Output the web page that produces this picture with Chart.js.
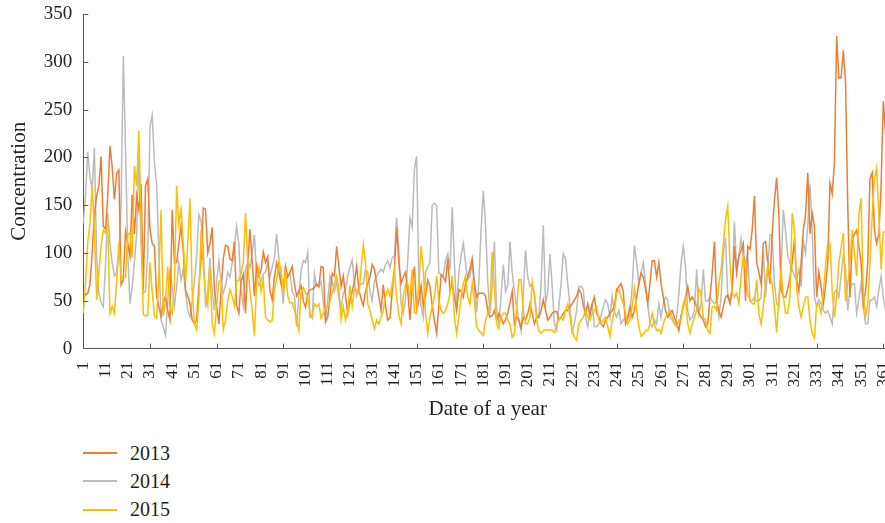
<!DOCTYPE html>
<html>
<head>
<meta charset="utf-8">
<title>Concentration by date of year</title>
<script src="https://cdn.jsdelivr.net/npm/chart.js@4.4.1/dist/chart.umd.min.js"></script>
<style>
  html, body { margin: 0; padding: 0; background: #fff; }
  #wrap { position: relative; width: 885px; height: 523px; overflow: hidden; }
  #chart { position: absolute; left: 0; top: 0; }
  #legend {
    position: absolute; left: 83px; top: 439px;
    font-family: "Liberation Serif", "Times New Roman", serif;
    font-size: 20px; color: #231f20;
  }
  #legend .item { display: flex; align-items: center; height: 28.3px; }
  #legend .swatch { display: block; width: 34px; height: 2px; margin-right: 13px; }
</style>
</head>
<body>
<div id="wrap">
  <canvas id="chart" width="893" height="422"></canvas>
  <div id="legend"></div>
</div>
<script>
// Day of year categories and y ticks
const days = Array.from({ length: 365 }, (_, i) => i + 1);
const yTicks = [0, 50, 100, 150, 200, 250, 300, 350];
const seriesNames = ['2013', '2014', '2015'];
const seriesColors = ['#EE7D31', '#BBBBBB', '#FFBE00'];
const drawOrder = [2, 3, 1]; // gray at the back, gold on top

// Values, 10 days per row
const values2013 = [
  60, 56, 58, 67, 100, 140, 160, 170, 201, 128,
  125, 160, 212, 190, 156, 183, 187, 67, 72, 123,
  110, 97, 161, 120, 160, 145, 172, 62, 170, 178,
  125, 110, 107, 55, 44, 34, 48, 55, 40, 30,
  145, 90, 90, 110, 129, 100, 61, 55, 47, 30,
  26, 30, 65, 94, 147, 146, 100, 110, 127, 60,
  45, 26, 60, 94, 108, 107, 94, 92, 112, 45,
  37, 70, 78, 37, 90, 125, 90, 55, 87, 76,
  82, 101, 90, 96, 61, 51, 75, 90, 80, 68,
  62, 86, 75, 80, 86, 68, 55, 60, 66, 50,
  43, 58, 62, 62, 64, 68, 65, 86, 85, 28,
  33, 55, 79, 76, 107, 86, 65, 76, 55, 37,
  50, 60, 70, 86, 62, 52, 45, 60, 68, 75,
  88, 83, 68, 55, 40, 67, 45, 30, 32, 60,
  83, 127, 90, 68, 75, 80, 60, 30, 65, 86,
  40, 50, 66, 45, 55, 72, 65, 45, 30, 16,
  45, 77, 75, 70, 94, 60, 68, 55, 40, 62,
  60, 54, 68, 75, 83, 94, 68, 54, 58, 58,
  58, 55, 40, 33, 35, 40, 30, 37, 33, 26,
  30, 37, 48, 60, 26, 33, 30, 22, 33, 30,
  37, 47, 37, 26, 33, 33, 40, 51, 40, 30,
  33, 37, 39, 39, 30, 33, 37, 40, 40, 44,
  47, 51, 55, 62, 58, 45, 37, 47, 35, 47,
  54, 37, 33, 26, 23, 30, 33, 37, 40, 44,
  62, 65, 68, 60, 26, 33, 44, 33, 40, 54,
  68, 79, 75, 62, 47, 68, 92, 92, 75, 90,
  68, 54, 40, 33, 37, 40, 33, 26, 19, 35,
  44, 54, 65, 50, 54, 50, 44, 37, 33, 30,
  23, 26, 54, 79, 112, 50, 40, 33, 44, 54,
  56, 48, 62, 107, 79, 97, 103, 110, 50, 107,
  104, 124, 160, 90, 80, 68, 110, 112, 90, 68,
  120, 155, 179, 140, 62, 54, 54, 62, 75, 90,
  115, 72, 60, 90, 124, 140, 184, 120, 142, 128,
  54, 80, 65, 47, 65, 90, 173, 162, 195, 327,
  283, 283, 312, 278, 150, 54, 113, 120, 124, 107,
  90, 47, 60, 90, 178, 184, 124, 110, 120, 170,
  259, 225, 200, 180, 160
];

const values2014 = [
  131, 160, 206, 180, 167, 210, 95, 58, 48, 44,
  87, 142, 110, 90, 76, 80, 100, 150, 306, 210,
  100, 47, 65, 90, 120, 205, 110, 58, 60, 100,
  232, 244, 195, 172, 100, 30, 23, 14, 50, 83,
  65, 45, 65, 90, 72, 83, 60, 40, 33, 50,
  70, 97, 140, 133, 107, 43, 60, 95, 60, 40,
  70, 92, 70, 58, 66, 80, 75, 90, 107, 128,
  110, 60, 45, 83, 90, 85, 100, 119, 75, 66,
  70, 78, 80, 90, 75, 85, 95, 120, 95, 70,
  47, 85, 75, 80, 60, 55, 23, 55, 82, 92,
  90, 101, 33, 33, 79, 65, 65, 70, 50, 30,
  50, 76, 70, 60, 70, 53, 42, 58, 62, 76,
  85, 93, 68, 55, 65, 68, 68, 83, 80, 60,
  50, 70, 76, 80, 83, 80, 88, 92, 85, 95,
  97, 137, 100, 47, 37, 52, 92, 137, 127, 187,
  201, 70, 45, 33, 80, 85, 90, 150, 152, 150,
  79, 78, 76, 92, 99, 83, 148, 90, 40, 80,
  97, 110, 90, 72, 76, 90, 65, 38, 70, 125,
  165, 130, 70, 37, 65, 112, 40, 26, 55, 88,
  60, 66, 112, 80, 60, 44, 30, 19, 55, 103,
  75, 65, 68, 58, 37, 33, 68, 129, 47, 60,
  99, 65, 26, 19, 44, 68, 99, 94, 68, 44,
  17, 26, 40, 65, 65, 62, 33, 23, 40, 47,
  23, 23, 26, 35, 44, 51, 47, 33, 55, 38,
  33, 40, 26, 30, 33, 30, 37, 65, 108, 90,
  68, 79, 90, 68, 47, 26, 23, 30, 26, 47,
  33, 47, 54, 51, 33, 30, 26, 33, 58, 90,
  107, 85, 40, 30, 33, 40, 83, 37, 47, 83,
  50, 50, 54, 50, 47, 50, 33, 54, 100, 116,
  54, 47, 62, 133, 83, 97, 115, 97, 90, 100,
  50, 50, 54, 50, 50, 54, 102, 54, 83, 119,
  119, 68, 47, 44, 83, 145, 124, 97, 90, 83,
  76, 72, 83, 65, 112, 100, 128, 172, 124, 54,
  44, 51, 47, 40, 37, 40, 33, 26, 58, 62,
  54, 76, 97, 83, 40, 62, 68, 68, 37, 51,
  68, 44, 26, 26, 51, 51, 54, 44, 62, 76,
  54, 40, 45, 50, 48
];

const values2015 = [
  37, 69, 111, 131, 170, 124, 51, 80, 107, 124,
  121, 131, 37, 44, 37, 70, 111, 72, 76, 75,
  120, 121, 95, 191, 170, 228, 130, 36, 34, 35,
  90, 60, 34, 32, 75, 145, 34, 50, 86, 44,
  37, 65, 170, 130, 146, 110, 70, 110, 157, 60,
  26, 20, 50, 124, 85, 58, 45, 86, 26, 16,
  45, 70, 72, 20, 30, 50, 62, 55, 45, 70,
  72, 80, 90, 142, 90, 60, 40, 13, 70, 84,
  60, 72, 33, 30, 28, 30, 62, 72, 90, 83,
  58, 83, 55, 48, 48, 40, 30, 19, 60, 64,
  58, 54, 37, 32, 47, 44, 47, 32, 37, 42,
  44, 50, 58, 68, 76, 62, 30, 44, 30, 40,
  66, 44, 62, 62, 58, 83, 109, 90, 47, 40,
  30, 21, 30, 26, 33, 40, 55, 62, 55, 68,
  83, 54, 35, 26, 55, 68, 68, 54, 83, 37,
  37, 68, 107, 83, 37, 16, 33, 44, 54, 76,
  51, 40, 37, 40, 47, 58, 76, 33, 16, 33,
  54, 68, 76, 54, 47, 68, 50, 23, 19, 17,
  14, 30, 37, 47, 101, 62, 26, 21, 33, 37,
  37, 30, 26, 12, 16, 40, 72, 72, 40, 26,
  26, 33, 70, 55, 30, 19, 16, 19, 20, 19,
  20, 19, 17, 26, 30, 33, 30, 40, 47, 33,
  19, 12, 9, 26, 30, 33, 40, 33, 30, 37,
  40, 44, 30, 26, 30, 33, 23, 13, 30, 40,
  58, 62, 54, 47, 37, 26, 30, 44, 63, 40,
  23, 13, 15, 19, 19, 26, 37, 26, 19, 20,
  16, 26, 33, 37, 40, 33, 26, 23, 30, 30,
  47, 54, 26, 16, 26, 33, 40, 63, 58, 33,
  30, 19, 16, 44, 44, 40, 68, 83, 110, 135,
  149, 90, 58, 54, 58, 47, 76, 97, 83, 58,
  51, 47, 47, 72, 37, 26, 44, 68, 88, 76,
  68, 44, 17, 54, 83, 55, 37, 37, 55, 142,
  124, 62, 44, 33, 44, 54, 54, 30, 16, 11,
  47, 47, 37, 58, 86, 110, 110, 60, 33, 55,
  90, 105, 121, 50, 68, 90, 124, 100, 76, 140,
  157, 60, 33, 47, 90, 140, 177, 189, 140, 83,
  122, 122, 110, 100, 95
];

const allValues = [values2013, values2014, values2015];
const serif = '"Liberation Serif", "Times New Roman", serif';
const axisColor = '#595959';
const textColor = '#231f20';

// Small tick marks pointing into the plot (every 30 days / every 50 units)
const inwardTicks = {
    id: 'inwardTicks',
    afterDraw(chart) {
        const { ctx, scales: { x, y } } = chart;
        ctx.save();
        ctx.strokeStyle = axisColor;
        ctx.lineWidth = 1;
        ctx.beginPath();
        days.forEach((d, i) => {
            if (i === 0 || (d - 1) % 30 !== 0) return;
            const px = Math.round(x.getPixelForValue(i)) + 0.5;
            ctx.moveTo(px, y.bottom);
            ctx.lineTo(px, y.bottom - 5);
        });
        yTicks.forEach(v => {
            if (v === 0) return;
            const py = Math.round(y.getPixelForValue(v)) + 0.5;
            ctx.moveTo(x.left, py);
            ctx.lineTo(x.left + 5, py);
        });
        ctx.stroke();
        ctx.restore();
    }
};

new Chart(document.getElementById('chart'), {
    type: 'line',
    data: {
        labels: days,
        datasets: seriesNames.map((name, k) => ({
            label: name,
            data: allValues[k],
            borderColor: seriesColors[k],
            backgroundColor: seriesColors[k],
            borderWidth: 1.5,
            pointRadius: 0,
            tension: 0,
            order: drawOrder[k]
        }))
    },
    options: {
        responsive: false,
        animation: false,
        layout: { padding: { top: 14, right: 0.8, bottom: 0, left: 0 } },
        plugins: {
            legend: { display: false },
            tooltip: { enabled: false }
        },
        scales: {
            x: {
                grid: { display: true, drawOnChartArea: false, drawTicks: false },
                border: { display: true, color: axisColor, width: 1 },
                ticks: {
                    autoSkip: false,
                    maxRotation: 90,
                    minRotation: 90,
                    padding: 13,
                    color: textColor,
                    font: { family: serif, size: 17 },
                    callback: (v, i) => (i % 10 === 0 ? String(days[i]) : '')
                },
                title: {
                    display: true,
                    text: 'Date of a year',
                    color: textColor,
                    font: { family: serif, size: 21 },
                    padding: { top: 0, bottom: 0 }
                },
                afterFit: (scale) => {
                    scale.paddingLeft = 0;
                    scale.paddingRight = 0;
                    scale.height = 422 - 348.7;
                }
            },
            y: {
                min: 0,
                max: 350,
                grid: { display: true, drawOnChartArea: false, drawTicks: false },
                border: { display: true, color: axisColor, width: 1 },
                ticks: {
                    stepSize: 50,
                    padding: 11,
                    color: textColor,
                    font: { family: serif, size: 19 }
                },
                title: {
                    display: true,
                    text: 'Concentration',
                    color: textColor,
                    font: { family: serif, size: 21 },
                    padding: { top: 7, bottom: 0 }
                },
                afterFit: (scale) => {
                    scale.width = 83.3;
                    scale.paddingTop = 0;
                    scale.paddingBottom = 0;
                }
            }
        }
    },
    plugins: [inwardTicks]
});

// Legend, stacked vertically under the chart
const legend = document.getElementById('legend');
seriesNames.forEach((name, k) => {
    const item = document.createElement('div');
    item.className = 'item';
    const sw = document.createElement('span');
    sw.className = 'swatch';
    sw.style.backgroundColor = seriesColors[k];
    const txt = document.createElement('span');
    txt.textContent = name;
    item.appendChild(sw);
    item.appendChild(txt);
    legend.appendChild(item);
});
</script>
</body>
</html>
